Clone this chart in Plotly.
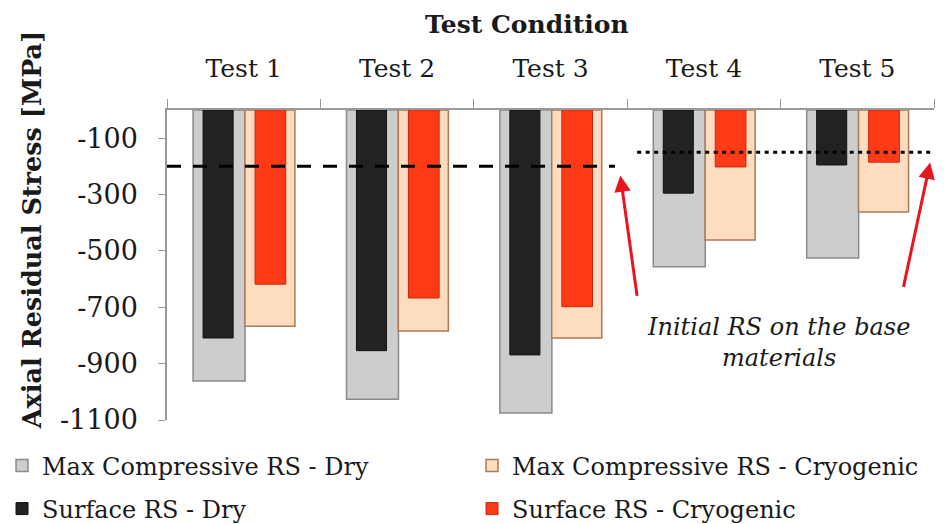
import plotly.graph_objects as go

# data (MPa)
tests = ["Test 1", "Test 2", "Test 3", "Test 4", "Test 5"]
max_dry = [-962, -1026, -1075, -556, -525]
max_cryo = [-767, -784, -809, -461, -362]
surf_dry = [-809, -854, -869, -295, -195]
surf_cryo = [-618, -667, -698, -202, -185]
base_rs = [-200, -150]          # initial RS: tests 1-3, tests 4-5
y_ticks = [-100, -300, -500, -700, -900, -1100]

FONT = "DejaVu Serif"
INK = "#1a1a1a"
AXC = "#9a9a9a"

fig = go.Figure()
# wide bars first, narrow surface bars drawn over them
fig.add_bar(x=tests, y=max_dry, name="Max Compressive RS - Dry", legend="legend",
            offset=-0.33, width=0.339,
            marker=dict(color="#cdcdcd", line=dict(color="#8a8a8a", width=1.5)))
fig.add_bar(x=tests, y=max_cryo, name="Max Compressive RS - Cryogenic", legend="legend2",
            offset=0.008, width=0.326,
            marker=dict(color="#fddcbf", line=dict(color="#ad7a55", width=1.5)))
fig.add_bar(x=tests, y=surf_dry, name="Surface RS - Dry", legend="legend3",
            offset=-0.265, width=0.196,
            marker=dict(color="#222222", line=dict(color="#111111", width=1)))
fig.add_bar(x=tests, y=surf_cryo, name="Surface RS - Cryogenic", legend="legend4",
            offset=0.074, width=0.2,
            marker=dict(color="#ff3a16", line=dict(color="#c8260e", width=1)))

# initial residual stress of the base materials
fig.add_shape(type="line", xref="paper", yref="y", x0=0, x1=0.584,
              y0=base_rs[0], y1=base_rs[0],
              line=dict(color="black", width=3, dash="14px,12px"))
fig.add_shape(type="line", xref="paper", yref="y", x0=0.613, x1=1.0,
              y0=base_rs[1], y1=base_rs[1],
              line=dict(color="black", width=3, dash="4px,4.5px"))

fig.add_annotation(xref="paper", yref="y", x=0.591, y=-232, text="",
                   showarrow=True, ax=17, ay=122, arrowhead=2, arrowsize=1.1,
                   arrowwidth=3, arrowcolor="#e8141e")
fig.add_annotation(xref="paper", yref="y", x=0.995, y=-186, text="",
                   showarrow=True, ax=-27, ay=126, arrowhead=2, arrowsize=1.1,
                   arrowwidth=3, arrowcolor="#e8141e")
fig.add_annotation(xref="paper", yref="y", x=0.797, y=-825, xanchor="center",
                   text="<i>Initial RS on the base<br>materials</i>", showarrow=False,
                   font=dict(family=FONT, size=24, color=INK))

fig.add_annotation(xref="paper", yref="paper", x=-0.176, y=0.612, xanchor="center",
                   yanchor="middle", textangle=-90,
                   text="<b>Axial Residual Stress [MPa]</b>", showarrow=False,
                   font=dict(family=FONT, size=25.5, color=INK))
fig.add_annotation(xref="paper", yref="paper", x=0.469, y=1.275, xanchor="center",
                   yanchor="middle", text="<b>Test Condition</b>", showarrow=False,
                   font=dict(family=FONT, size=25, color=INK))

leg = dict(orientation="h", xref="paper", yref="container", yanchor="middle",
           bgcolor="rgba(0,0,0,0)", font=dict(family=FONT, size=24, color=INK))
row1, row2 = 1 - 458 / 524, 1 - 501 / 524
col1, col2 = -0.2151, 0.3977

fig.update_layout(
    width=950, height=524, barmode="overlay", showlegend=True,
    paper_bgcolor="white", plot_bgcolor="white",
    margin=dict(l=159, r=24, t=102, b=112, autoexpand=False),
    font=dict(family=FONT, color=INK),
    xaxis=dict(side="top", showline=True, linecolor=AXC, linewidth=1.5,
               ticks="outside", tickson="boundaries", ticklen=9, tickcolor=AXC,
               tickfont=dict(size=25), ticklabelstandoff=21, showgrid=False),
    yaxis=dict(range=[-1100, 0], tickvals=y_ticks, ticktext=[str(v) for v in y_ticks],
               showline=True, linecolor=AXC, linewidth=1.5, ticks="outside", ticklen=7,
               tickcolor=AXC, tickfont=dict(size=27), ticklabelstandoff=15,
               showgrid=False, zeroline=False),
    legend=dict(leg, x=col1, y=row1),
    legend2=dict(leg, x=col2, y=row1),
    legend3=dict(leg, x=col1, y=row2),
    legend4=dict(leg, x=col2, y=row2),
)

fig.write_html("out.html")
